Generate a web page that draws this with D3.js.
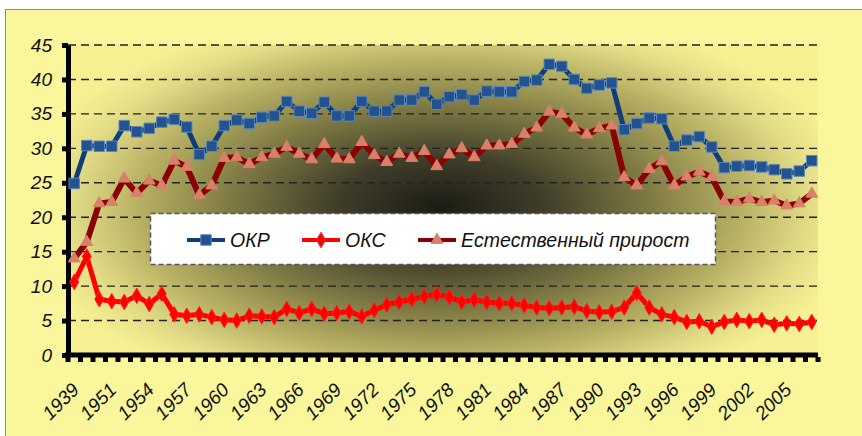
<!DOCTYPE html>
<html>
<head>
<meta charset="utf-8">
<script src="https://cdn.jsdelivr.net/npm/d3@7"></script>
<style>
  body { margin: 0; background: #fff; }
  text { font-family: "Liberation Sans", Arial, sans-serif; font-style: italic; fill: #111; }
</style>
</head>
<body>
<svg id="chart" width="862" height="436"></svg>
<script>
// categories (years) and labelled years on the x axis
const years = ["1939","1940","1950","1951","1952","1953","1954","1955","1956","1957",
  "1958","1959","1960","1961","1962","1963","1964","1965","1966","1967",
  "1968","1969","1970","1971","1972","1973","1974","1975","1976","1977",
  "1978","1979","1980","1981","1982","1983","1984","1985","1986","1987",
  "1988","1989","1990","1991","1992","1993","1994","1995","1996","1997",
  "1998","1999","2000","2001","2002","2003","2004","2005","2006","2007"];
const labelYears = ["1939","1951","1954","1957","1960","1963","1966","1969","1972","1975",
  "1978","1981","1984","1987","1990","1993","1996","1999","2002","2005"];
const yTicks = [0, 5, 10, 15, 20, 25, 30, 35, 40, 45];

// series
const okr = [24.9,30.4,30.3,30.3,33.3,32.4,32.9,33.8,34.2,33.1,
  29.1,30.3,33.3,34.1,33.6,34.5,34.7,36.8,35.4,35.1,
  36.7,34.7,34.7,36.8,35.4,35.4,37.0,37.0,38.2,36.4,
  37.5,37.8,37.0,38.3,38.2,38.2,39.7,39.9,42.2,41.9,
  40.0,38.7,39.2,39.5,32.7,33.6,34.4,34.3,30.3,31.2,
  31.7,30.2,27.2,27.4,27.5,27.3,26.9,26.3,26.7,28.2];
const oks = [10.6,14.3,8.1,7.8,7.7,8.6,7.4,8.9,5.9,5.7,
  5.9,5.5,5.1,5.0,5.7,5.6,5.5,6.7,6.1,6.7,
  6.0,6.1,6.3,5.6,6.5,7.3,7.7,8.1,8.5,8.8,
  8.4,7.7,8.0,7.7,7.5,7.5,7.2,6.9,6.8,6.9,
  7.0,6.4,6.2,6.3,6.9,9.0,6.9,5.9,5.5,4.8,
  4.9,4.1,4.8,5.1,4.9,5.1,4.4,4.6,4.5,4.8];
const natural = [14.0,16.4,22.0,22.2,25.6,23.5,25.3,24.6,28.2,27.3,
  23.2,24.6,28.6,28.7,27.7,28.7,29.2,30.2,29.2,28.4,
  30.6,28.5,28.4,30.9,29.0,28.0,29.2,28.6,29.6,27.4,
  29.1,30.0,28.7,30.4,30.4,30.6,32.1,33.0,35.3,35.0,
  33.0,32.0,32.9,33.3,25.8,24.6,27.0,28.1,24.6,25.9,
  26.6,25.8,22.3,22.2,22.7,22.2,22.4,21.7,22.0,23.4];

const seriesNames = ["ОКР", "ОКС", "Естественный прирост"];

const svg = d3.select("#chart");
const plotL = 68, plotR = 818, plotT = 45, plotB = 355;

const x = d3.scaleBand().domain(years).range([plotL, plotR]).padding(0);
const y = d3.scaleLinear().domain([0, 45]).range([plotB, plotT]);
const cx = d => x(d) + x.bandwidth() / 2;

// backgrounds: dark centre fading to yellow (elliptical)
const defs = svg.append("defs");
const grad = defs.append("radialGradient").attr("id", "bg")
  .attr("gradientUnits", "userSpaceOnUse")
  .attr("cx", 0).attr("cy", 0).attr("r", 1)
  .attr("gradientTransform", "translate(440,208) scale(420,205)");
[[0, "#1c1b14"], [0.25, "#403e2a"], [0.5, "#7f7a44"], [0.72, "#b8b164"], [0.88, "#e2dc86"], [1, "#f6f093"]]
  .forEach(s => grad.append("stop").attr("offset", s[0]).attr("stop-color", s[1]));

svg.append("rect").attr("x", 5.5).attr("y", 9.5).attr("width", 900).attr("height", 500)
  .attr("fill", "#faf69c").attr("stroke", "#8a8a8a");
svg.append("rect").attr("x", plotL).attr("y", plotT).attr("width", plotR - plotL).attr("height", plotB - plotT)
  .attr("fill", "url(#bg)");

// gridlines
svg.append("g").selectAll("line").data(yTicks.slice(1)).join("line")
  .attr("x1", plotL).attr("x2", plotR)
  .attr("y1", d => y(d)).attr("y2", d => y(d))
  .attr("stroke", "#222").attr("stroke-width", 1.4).attr("stroke-dasharray", "8,5");

// y axis
const yAxis = svg.append("g").attr("transform", `translate(${plotL},0)`)
  .call(d3.axisLeft(y).tickValues(yTicks).tickSize(6).tickSizeOuter(0).tickPadding(10));
yAxis.select(".domain").attr("stroke", "#000").attr("stroke-width", 5);
yAxis.selectAll(".tick line").attr("stroke", "#000").attr("stroke-width", 5);
yAxis.selectAll(".tick text").style("font-size", "19px").style("font-style", "italic")
  .style("font-family", "'Liberation Sans', Arial, sans-serif").attr("fill", "#111");

// x axis line and tick teeth at category boundaries
const bounds = years.map(d => x(d)).concat([plotR]);
svg.append("g").selectAll("line").data(bounds).join("line")
  .attr("x1", d => d).attr("x2", d => d).attr("y1", plotB + 2).attr("y2", plotB + 7)
  .attr("stroke", "#000").attr("stroke-width", 5);
svg.append("line").attr("x1", plotL - 3).attr("x2", plotR).attr("y1", plotB).attr("y2", plotB)
  .attr("stroke", "#000").attr("stroke-width", 5);

// x labels
svg.append("g").selectAll("text").data(labelYears).join("text")
  .attr("text-anchor", "end")
  .attr("transform", d => `translate(${cx(d) + 6},${plotB + 36}) rotate(-45)`)
  .style("font-size", "19px")
  .text(d => d);

// series
const line = d3.line().x((d, i) => cx(years[i])).y(d => y(d));
const series = [
  { name: seriesNames[0], values: okr, color: "#0f3d78", width: 5, sym: d3.symbolSquare, size: 110, fill: "#22528f", stroke: "#5d87bd" },
  { name: seriesNames[1], values: oks, color: "#ff0000", width: 5, sym: d3.symbolDiamond, size: 70, fill: "#ff0000", stroke: "#ff2020" },
  { name: seriesNames[2], values: natural, color: "#8b0000", width: 6, sym: d3.symbolTriangle, size: 60, fill: "#d8806a", stroke: "#d8806a" }
];

series.forEach(s => {
  const g = svg.append("g");
  g.append("path").datum(s.values).attr("d", line)
    .attr("fill", "none").attr("stroke", s.color).attr("stroke-width", s.width)
    .attr("stroke-linejoin", "round");
  g.selectAll("path.m").data(s.values).join("path").attr("class", "m")
    .attr("transform", (d, i) => `translate(${cx(years[i])},${y(d)})`)
    .attr("d", d3.symbol(s.sym, s.size))
    .attr("fill", s.fill).attr("stroke", s.stroke).attr("stroke-width", 1);
});

// legend
const lg = svg.append("g");
lg.append("rect").attr("x", 150.5).attr("y", 213.5).attr("width", 565).attr("height", 51)
  .attr("fill", "#fff").attr("stroke", "#555").attr("stroke-width", 1.5).attr("stroke-dasharray", "5,3");
const legendX = [187, 302, 418];
series.forEach((s, i) => {
  const g = lg.append("g").attr("transform", `translate(${legendX[i]},240)`);
  g.append("line").attr("x1", 0).attr("x2", 38).attr("stroke", s.color).attr("stroke-width", 4);
  g.append("path").attr("transform", "translate(19,0)").attr("d", d3.symbol(s.sym, s.size))
    .attr("fill", s.fill).attr("stroke", s.stroke);
  g.append("text").attr("x", 43).attr("y", 7).style("font-size", "19.5px").text(s.name);
});
</script>
</body>
</html>
